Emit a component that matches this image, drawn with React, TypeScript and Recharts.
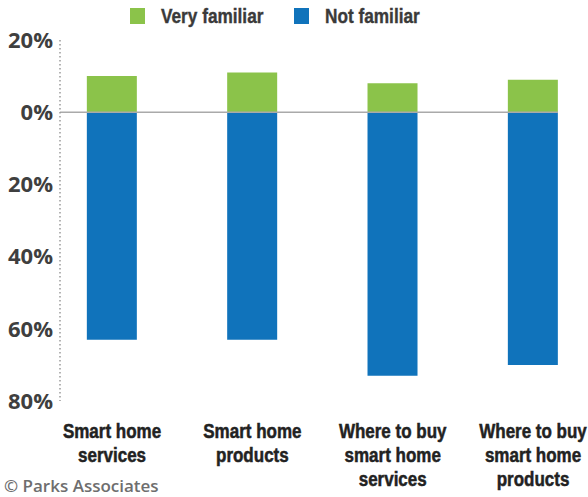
import React from "react";
import { BarChart, Bar, XAxis, YAxis, ReferenceLine, Legend } from "recharts";

const categories: string[][] = [
  ["Smart home", "services"],
  ["Smart home", "products"],
  ["Where to buy", "smart home", "services"],
  ["Where to buy", "smart home", "products"],
];
const veryFamiliar = [10, 11, 8, 9];
const notFamiliar = [63, 63, 73, 70];
const yTicks = [20, 0, -20, -40, -60, -80];

const GREEN = "#8BC34A";
const BLUE = "#1073BB";
const BOLD_FONT = "'Liberation Sans', Arial, sans-serif";

const data = categories.map((c, i) => ({
  idx: i,
  veryFamiliar: veryFamiliar[i],
  notFamiliar: -notFamiliar[i],
}));

const XTick = (props: any) => {
  const { x, y, payload } = props;
  const lines = categories[payload.value] || [];
  return (
    <g transform={`translate(${x},${y}) scale(0.85,1)`}>
      <text
        x={0}
        y={0}
        textAnchor="middle"
        fill="#222"
        stroke="#222"
        strokeWidth={0.5}
        style={{ fontFamily: BOLD_FONT, fontWeight: 700, fontSize: 20 }}
      >
        {lines.map((l, k) => (
          <tspan key={k} x={0} dy={k === 0 ? 37 : 24}>
            {l}
          </tspan>
        ))}
      </text>
    </g>
  );
};

const LegendContent = () => {
  const items = [
    { label: "Very familiar", color: GREEN },
    { label: "Not familiar", color: BLUE },
  ];
  return (
    <div style={{ height: 30, position: "relative", width: 588 }}>
      {items.map((it, i) => (
        <div
          key={i}
          style={{
            position: "absolute",
            left: 130 + i * 164,
            top: 8,
            display: "flex",
            alignItems: "center",
            whiteSpace: "nowrap",
          }}
        >
          <span
            style={{
              display: "inline-block",
              width: 15,
              height: 16,
              background: it.color,
              marginRight: 16,
            }}
          />
          <span
            style={{
              display: "inline-block",
              fontFamily: BOLD_FONT,
              fontWeight: 700,
              fontSize: 21,
              color: "#3a3a3a",
              lineHeight: "16px",
              WebkitTextStroke: "0.4px #3a3a3a",
              transform: "scaleX(0.82)",
              transformOrigin: "left center",
            }}
          >
            {it.label}
          </span>
        </div>
      ))}
    </div>
  );
};

export default function App() {
  return (
    <div style={{ position: "absolute", left: 0, top: 0, width: 588, height: 497, background: "#fff" }}>
      <BarChart
        width={588}
        height={497}
        data={data}
        stackOffset="sign"
        margin={{ top: 10, right: 30, bottom: 0, left: 0 }}
      >
        <Legend
          verticalAlign="top"
          align="left"
          content={<LegendContent />}
          wrapperStyle={{ top: 0, left: 0, width: 588, height: 30 }}
        />
        <XAxis
          dataKey="idx"
          type="number"
          domain={[-0.3706, 3.178]}
          ticks={[0, 1, 2, 3]}
          allowDataOverflow
          axisLine={false}
          tickLine={false}
          tickSize={0}
          tickMargin={0}
          height={96}
          tick={<XTick />}
          interval={0}
        />
        <YAxis
          type="number"
          domain={[-80, 20]}
          ticks={yTicks}
          width={60}
          tickSize={0}
          tickMargin={7}
          tickLine={false}
          axisLine={{ stroke: "#9a9a9a", strokeWidth: 1.5, strokeDasharray: "1.5 2.5" }}
          tickFormatter={(v: number) => `${Math.abs(v)}%`}
          tick={{ fill: "#3f3f3f", fontFamily: "'Open Sans', sans-serif", fontWeight: 700, fontSize: 22 }}
          interval={0}
        />
        <ReferenceLine y={0} stroke="#aaaaaa" strokeWidth={1.5} />
        <Bar dataKey="veryFamiliar" stackId="a" fill={GREEN} barSize={50} isAnimationActive={false} />
        <Bar dataKey="notFamiliar" stackId="a" fill={BLUE} barSize={50} isAnimationActive={false} />
      </BarChart>
      <div
        style={{
          position: "absolute",
          left: 4,
          top: 475,
          fontFamily: "'Open Sans', sans-serif",
          fontWeight: 600,
          fontSize: 17,
          color: "#6e6e6e",
          lineHeight: "22px",
        }}
      >
        © Parks Associates
      </div>
    </div>
  );
}
